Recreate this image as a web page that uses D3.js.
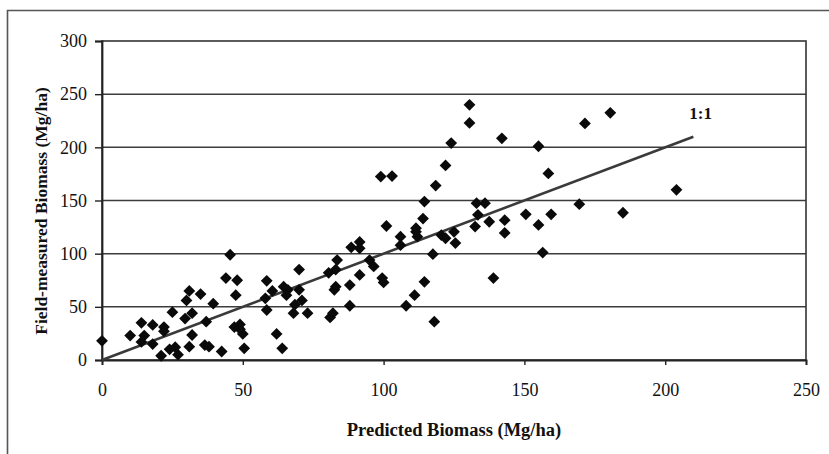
<!DOCTYPE html>
<html>
<head>
<meta charset="utf-8">
<script src="https://cdn.jsdelivr.net/npm/d3@7"></script>
<style>
  html, body { margin: 0; padding: 0; background: #fff; }
  svg { display: block; }
  text { font-family: "Liberation Serif", "Times New Roman", serif; fill: #111; }
</style>
</head>
<body>
<svg id="chart" width="829" height="454"></svg>
<script>
// Predicted vs field-measured biomass (Mg/ha)
const predicted = [
  0, 10, 14, 15, 14, 18, 18, 22, 22, 21, 25, 24, 26, 27, 29.5, 30, 31, 32, 32, 31,
  35, 36.5, 37, 38, 39.5, 42.5, 45.5, 44, 48, 47.5, 47, 49, 50, 50.5, 49,
  58.5, 60.5, 58, 58.5, 62, 64, 64.5, 66, 65.5, 70, 70, 68.5, 71, 68, 73,
  80.5, 83.5, 83, 83, 82.5, 81, 82, 88, 88, 91.5, 88.5, 91.5, 91.5, 95, 96.5,
  99.5, 100, 101, 106, 106, 108,
  130.5, 130.5, 142, 124, 122, 118.5, 99, 103, 114.5, 114, 111.5, 112, 120.5, 122,
  125, 125.5, 133, 136, 133.5, 132.5, 137.5, 143, 143, 117.5,
  180.5, 171.5, 155, 158.5, 204, 169.5, 185, 150.5, 159.5, 155, 156.5, 139,
  114.5, 111, 118, 111.5
];
const measured = [
  18, 23, 35, 23, 17, 33, 15, 31, 27, 4, 45, 10, 12, 5, 39, 56, 65, 44, 23.5, 12.5,
  62, 14, 36, 12.5, 53, 8, 99, 77, 75, 61, 31, 33.5, 24.5, 11, 29,
  74.5, 65, 58, 47, 24.5, 11, 69, 66, 61, 85, 66, 52, 56, 44, 44,
  82, 94, 85, 69, 66, 40, 44, 70.5, 51, 80, 106, 111, 105, 94, 88,
  77, 73, 126, 116, 108, 51,
  240, 223, 208.5, 204, 183, 164, 172.5, 173, 149, 133, 124, 116, 117.5, 114.5,
  120.5, 110, 147.5, 147.5, 136.5, 125.5, 130, 131.5, 119.5, 99.5,
  232.5, 222.5, 201, 175.5, 160, 146.5, 138.5, 137, 137, 127, 101, 77,
  73.5, 61, 36, 120.5
];
const xTicks = [0, 50, 100, 150, 200, 250];
const yTicks = [0, 50, 100, 150, 200, 250, 300];
const gridValues = [50, 100, 150, 200, 250];
const oneToOne = [0, 210];

const svg = d3.select("#chart");
const plotLeft = 102, plotRight = 806, plotTop = 41, plotBottom = 360;

const x = d3.scaleLinear().domain([0, 250]).range([plotLeft, plotRight]);
const y = d3.scaleLinear().domain([0, 300]).range([plotBottom, plotTop]);

// outer frame (top and left edges)
svg.append("path")
  .attr("d", `M7.5,454 L7.5,10.5 L829,10.5`)
  .attr("fill", "none").attr("stroke", "#555").attr("stroke-width", 1.6);

// horizontal gridlines
svg.append("g").selectAll("line").data(gridValues).join("line")
  .attr("x1", plotLeft).attr("x2", plotRight)
  .attr("y1", d => y(d)).attr("y2", d => y(d))
  .attr("stroke", "#3c3c3c").attr("stroke-width", 1.5);

// plot frame
svg.append("rect")
  .attr("x", plotLeft).attr("y", plotTop)
  .attr("width", plotRight - plotLeft).attr("height", plotBottom - plotTop)
  .attr("fill", "none").attr("stroke", "#333").attr("stroke-width", 1.6);

// axes
const yAxis = d3.axisLeft(y).tickValues(yTicks).tickSize(7).tickPadding(8).tickFormat(d3.format("d"));
const xAxis = d3.axisBottom(x).tickValues(xTicks).tickSize(5).tickPadding(18).tickFormat(d3.format("d"));

const gy = svg.append("g").attr("transform", `translate(${plotLeft},0)`).call(yAxis);
const gx = svg.append("g").attr("transform", `translate(0,${plotBottom})`).call(xAxis);
[gx, gy].forEach(g => {
  g.select(".domain").attr("stroke", "#222").attr("stroke-width", 1.8);
  g.selectAll(".tick line").attr("stroke", "#222").attr("stroke-width", 1.4);
  g.selectAll(".tick text")
    .attr("font-family", "Liberation Serif, serif")
    .attr("font-size", 18).attr("fill", "#111");
});

// 1:1 reference line
svg.append("line")
  .attr("x1", x(oneToOne[0])).attr("y1", y(oneToOne[0]))
  .attr("x2", x(oneToOne[1])).attr("y2", y(oneToOne[1]))
  .attr("stroke", "#3a3a3a").attr("stroke-width", 2.6);

svg.append("text")
  .attr("x", x(oneToOne[1]) - 4).attr("y", y(oneToOne[1]) - 18)
  .attr("font-size", 17).attr("font-weight", "bold")
  .text("1:1");

// points as diamonds
const diamond = "M0,-5.9L5.9,0L0,5.9L-5.9,0Z";
svg.append("g").selectAll("path").data(predicted.map((p, i) => [p, measured[i]])).join("path")
  .attr("d", diamond)
  .attr("transform", d => `translate(${x(d[0])},${y(d[1])})`)
  .attr("fill", "#0a0a0a");

// axis titles
svg.append("text")
  .attr("x", (plotLeft + plotRight) / 2).attr("y", 436)
  .attr("text-anchor", "middle")
  .attr("font-size", 18.5).attr("font-weight", "bold")
  .text("Predicted Biomass (Mg/ha)");

svg.append("text")
  .attr("transform", `translate(47,211) rotate(-90)`)
  .attr("text-anchor", "middle")
  .attr("font-size", 17.5).attr("font-weight", "bold")
  .text("Field-measured Biomass (Mg/ha)");
</script>
</body>
</html>
